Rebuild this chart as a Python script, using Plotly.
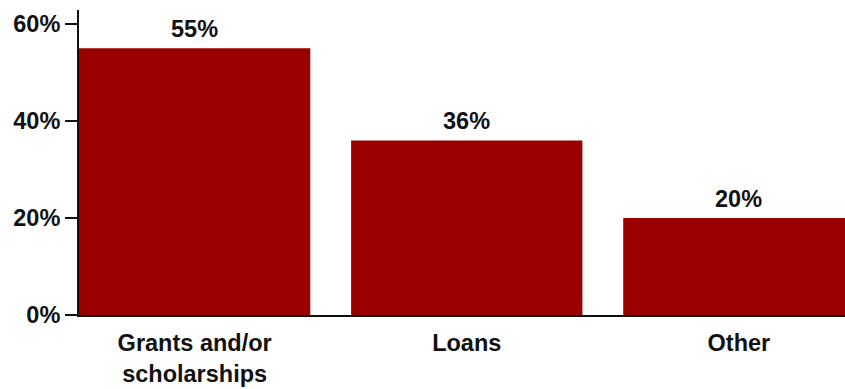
import plotly.graph_objects as go

categories = ["Grants and/or<br>scholarships", "Loans", "Other"]
values = [55, 36, 20]
value_labels = ["55%", "36%", "20%"]
y_ticks = [0, 20, 40, 60]
y_tick_labels = ["0%", "20%", "40%", "60%"]

BAR_COLOR = "#990000"
TEXT_COLOR = "#111111"
FONT = "Liberation Sans, Arial, sans-serif"
FONT_SIZE = 23.5

fig = go.Figure(
    go.Bar(
        x=categories,
        y=values,
        width=0.85,
        marker=dict(color=BAR_COLOR, line=dict(width=0)),
        hoverinfo="skip",
    )
)

# value labels sitting just above each bar
for cat, val, lab in zip(categories, values, value_labels):
    fig.add_annotation(
        x=cat,
        y=val,
        text=lab,
        showarrow=False,
        yanchor="bottom",
        yshift=4,
        font=dict(family=FONT, size=FONT_SIZE, color=TEXT_COLOR, weight="bold"),
    )

fig.update_layout(
    width=845,
    height=389,
    margin=dict(l=79, r=0, t=10, b=74),
    paper_bgcolor="white",
    plot_bgcolor="white",
    showlegend=False,
    font=dict(family=FONT, size=FONT_SIZE, color=TEXT_COLOR, weight="bold"),
)

fig.update_xaxes(
    range=[-0.425, 2.39],
    showline=True,
    linecolor=TEXT_COLOR,
    linewidth=2,
    ticks="",
    showgrid=False,
    ticklabelstandoff=6,
    tickfont=dict(family=FONT, size=FONT_SIZE, color=TEXT_COLOR, weight="bold"),
)

fig.update_yaxes(
    range=[0, 62.9],
    tickvals=y_ticks,
    ticktext=y_tick_labels,
    showline=True,
    linecolor=TEXT_COLOR,
    linewidth=2,
    ticks="outside",
    ticklen=12,
    tickwidth=2,
    tickcolor=TEXT_COLOR,
    showgrid=False,
    zeroline=False,
    tickfont=dict(family=FONT, size=FONT_SIZE, color=TEXT_COLOR, weight="bold"),
)

fig.write_html("out.html")
